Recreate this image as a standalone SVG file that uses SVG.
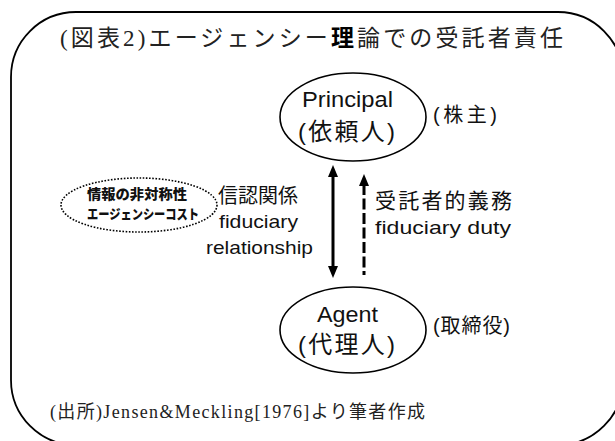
<svg xmlns="http://www.w3.org/2000/svg" width="615" height="441" viewBox="0 0 615 441">
  <style>
    .serif { font-family: "Liberation Serif", "Noto Sans CJK JP", serif; fill: #222; }
    .sans { font-family: "Liberation Sans", "Noto Sans CJK JP", sans-serif; fill: #111; }
    .node { fill: #fff; stroke: #000; stroke-width: 1.6; }
    .dotted { fill: #fff; stroke: #000; stroke-width: 1.6; stroke-dasharray: 1.6 1.6; }
    .conn { stroke: #000; stroke-width: 3; fill: none; }
    .head { fill: #000; }
  </style>
  <rect x="0" y="0" width="615" height="441" fill="#fff"/>
  <rect x="11" y="12" width="612" height="433" rx="65" ry="65" fill="#fff" stroke="#000" stroke-width="1.8"/>

  <text class="serif" x="60" y="46" font-size="23" textLength="503" lengthAdjust="spacing">(図表2)エージェンシー<tspan font-family="Noto Sans CJK JP, sans-serif" font-weight="bold" fill="#000">理</tspan>論での受託者責任</text>

  <g id="connectors">
    <g id="fiduciary-relationship">
      <line class="conn" x1="333" y1="175" x2="333" y2="268"/>
      <path class="head" d="M333,165 L338,177 L328,177 Z"/>
      <path class="head" d="M333,278 L338,266 L328,266 Z"/>
    </g>
    <g id="fiduciary-duty">
      <line class="conn" x1="364" y1="184" x2="364" y2="275" stroke-dasharray="11 3.5"/>
      <path class="head" d="M364,174 L369,186 L359,186 Z"/>
    </g>
    <g id="label-fiduciary-relationship">
      <text class="sans" x="218" y="203" font-size="20">信認関係</text>
      <text class="sans" x="219" y="228" font-size="19" textLength="79" lengthAdjust="spacingAndGlyphs">fiduciary</text>
      <text class="sans" x="206" y="254" font-size="19" textLength="107" lengthAdjust="spacingAndGlyphs">relationship</text>
    </g>
    <g id="label-fiduciary-duty">
      <text class="sans" x="375" y="208" font-size="21" textLength="137" lengthAdjust="spacing">受託者的義務</text>
      <text class="sans" x="375" y="234" font-size="19" textLength="136" lengthAdjust="spacingAndGlyphs">fiduciary duty</text>
    </g>
  </g>

  <g id="principal">
    <ellipse class="node" cx="353" cy="117" rx="73" ry="44"/>
    <text class="sans" x="302" y="107" font-size="22" textLength="91" lengthAdjust="spacingAndGlyphs">Principal</text>
    <text class="sans" x="298" y="140" font-size="24" textLength="97" lengthAdjust="spacing">(依頼人)</text>
    <text class="sans" x="433" y="122" font-size="20" textLength="64" lengthAdjust="spacing">(株主)</text>
  </g>

  <g id="agent">
    <ellipse class="node" cx="353" cy="330" rx="73" ry="43"/>
    <text class="sans" x="317" y="322" font-size="22" textLength="61" lengthAdjust="spacingAndGlyphs">Agent</text>
    <text class="sans" x="298" y="353" font-size="24" textLength="97" lengthAdjust="spacing">(代理人)</text>
    <text class="sans" x="433" y="333" font-size="20" textLength="77" lengthAdjust="spacing">(取締役)</text>
  </g>

  <g id="info-asymmetry">
    <ellipse class="dotted" cx="139" cy="205" rx="78" ry="27"/>
    <text class="sans" x="87" y="199" font-size="13.5" font-weight="900" textLength="100" lengthAdjust="spacingAndGlyphs">情報の非対称性</text>
    <text class="sans" x="87" y="219" font-size="13.5" font-weight="900" textLength="112" lengthAdjust="spacingAndGlyphs">エージェンシーコスト</text>
  </g>

  <text class="serif" x="50" y="418" font-size="18" textLength="375" lengthAdjust="spacing">(出所)Jensen&amp;Meckling[1976]より筆者作成</text>
</svg>
